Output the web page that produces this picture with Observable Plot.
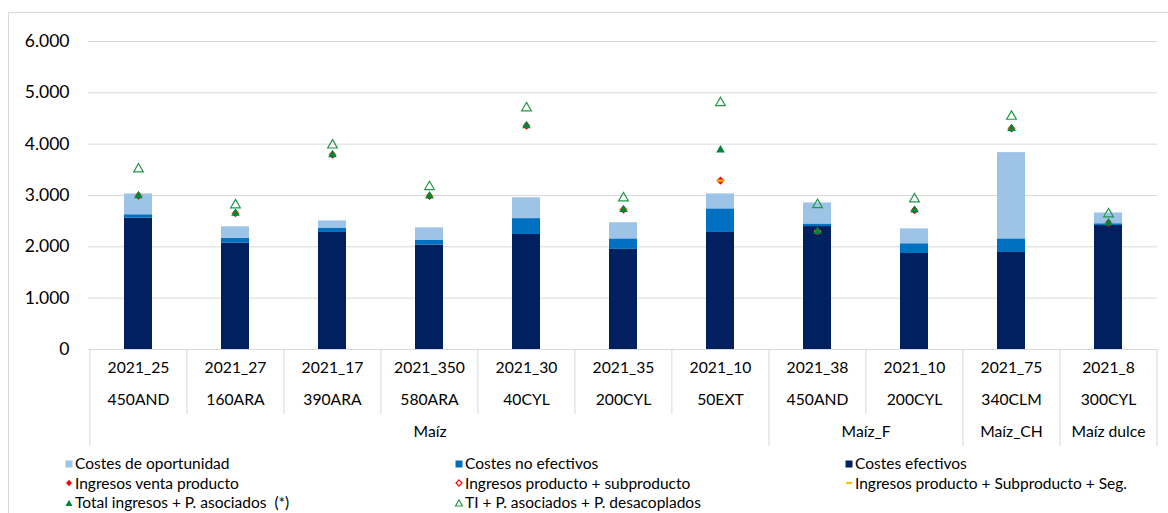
<!DOCTYPE html>
<html>
<head>
<meta charset="utf-8">
<script src="https://cdn.jsdelivr.net/npm/d3@7"></script>
<script src="https://cdn.jsdelivr.net/npm/@observablehq/plot@0.6"></script>
<style>
  body { margin: 0; background: #fff; font-family: Lato, "Open Sans", sans-serif; color: #000; }
  #wrap { position: relative; width: 1168px; height: 513px; overflow: hidden; background: #fff; }
  #chart { position: absolute; left: 0; top: 0; }
  #border { position: absolute; left: 8px; top: 12px; width: 1175px; height: 520px; border: 1px solid #d9d9d9; box-sizing: border-box; pointer-events: none; }
  #legend { position: absolute; left: 65px; top: 454px; display: grid; grid-template-columns: 390px 390px 300px; grid-auto-rows: 19.5px; font-size: 15.5px; line-height: 19.5px; white-space: pre; }
  #legend .item { display: flex; align-items: center; }
  #legend svg { width: 8px; height: 10px; margin-right: 2px; flex: none; overflow: visible; }
</style>
</head>
<body>
<div id="wrap">
  <div id="chart"></div>
  <div id="legend"></div>
  <div id="border"></div>
</div>
<script>
// ---- data ----
const codes   = ["2021_25","2021_27","2021_17","2021_350","2021_30","2021_35","2021_10","2021_38","2021_10","2021_75","2021_8"];
const regions = ["450AND","160ARA","390ARA","580ARA","40CYL","200CYL","50EXT","450AND","200CYL","340CLM","300CYL"];
const groups  = ["Maíz","Maíz","Maíz","Maíz","Maíz","Maíz","Maíz","Maíz_F","Maíz_F","Maíz_CH","Maíz dulce"];

const costesEfectivos    = [2560, 2075, 2280, 2035, 2240, 1950, 2280, 2395, 1870, 1890, 2415];
const costesNoEfectivos  = [  65,   90,   85,   90,  310,  205,  460,   50,  190,  265,   35];
const costesOportunidad  = [ 405,  225,  140,  245,  405,  315,  290,  410,  290, 1680,  210];

const ingresosVenta       = [2995, 2655, 3795, 2990, 4360, 2725, 3290, 2300, 2715, 4305, 2465];
const ingresosSubproducto = [2995, 2655, 3795, 2990, 4360, 2725, 3290, 2300, 2715, 4305, 2465];
const ingresosSeguro      = [2995, 2655, 3795, 2990, 4360, 2725, 3290, 2300, 2715, 4305, 2465];
const totalIngresos       = [2995, 2655, 3795, 2990, 4360, 2725, 3885, 2300, 2715, 4305, 2465];
const tiDesacoplados      = [3515, 2815, 3980, 3170, 4705, 2950, 4805, 2820, 2930, 4540, 2640];

const costNames  = ["Costes efectivos", "Costes no efectivos", "Costes de oportunidad"];
const costColors = ["#002060", "#0070C0", "#9DC3E6"];

// ---- layout ----
const W = 1168, H = 452, mL = 88, mR = 11, mT = 41, mB = 103;
const keys = codes.map((c, i) => c + " " + regions[i]);
const step = (W - mL - mR) / keys.length;
const barW = 28;
const pad = 1 - barW / step;
const innerH = H - mT - mB;

const costValues = [costesEfectivos, costesNoEfectivos, costesOportunidad];
const bars = costNames.flatMap((name, s) => keys.map((k, i) => ({key: k, series: name, value: costValues[s][i]})));
const rows = keys.map((k, i) => ({
  key: k, venta: ingresosVenta[i], sub: ingresosSubproducto[i], seg: ingresosSeguro[i],
  total: totalIngresos[i], ti: tiDesacoplados[i]
}));

// group spans
const groupList = [];
groups.forEach((g, i) => {
  if (i === 0 || groups[i - 1] !== g) groupList.push({name: g, start: i, count: 1});
  else groupList[groupList.length - 1].count++;
});
const boundaries = keys.map((k, i) => ({key: k, group: i === 0 || groups[i] !== groups[i - 1]}));

const esFormat = d3.formatLocale({decimal: ",", thousands: ".", grouping: [3], currency: ["", "€"]}).format(",.0f");

const dash = {
  draw(context, size) {
    const w = Math.sqrt(size);
    context.rect(-w / 2, -1.1, w, 2.2);
  }
};

const red = "#FF0000", yellow = "#FFC000", green = "#00843D", green2 = "#1E9646";

const chart = Plot.plot({
  width: W, height: H,
  marginLeft: mL, marginRight: mR, marginTop: mT, marginBottom: mB,
  style: {fontFamily: "Lato, 'Open Sans', sans-serif", fontSize: "17.5px", color: "#000", background: "transparent", overflow: "visible"},
  x: {type: "band", domain: keys, paddingInner: pad, paddingOuter: pad / 2, axis: null},
  y: {domain: [0, 6000], ticks: 6, tickFormat: esFormat, tickSize: 0, tickPadding: 19, label: null},
  color: {domain: costNames, range: costColors},
  marks: [
    Plot.ruleY(d3.ticks(0, 6000, 6), {stroke: "#d9d9d9", strokeWidth: 1}),
    Plot.barY(bars, {x: "key", y: "value", fill: "series"}),
    Plot.dot(rows, {x: "key", y: "venta", symbol: "diamond2", r: 2.9, fill: red}),
    Plot.dot(rows, {x: "key", y: "sub", symbol: "diamond2", r: 2.9, fill: "none", stroke: red, strokeWidth: 1.2}),
    Plot.dot(rows, {x: "key", y: "seg", symbol: dash, r: 3.6, fill: yellow}),
    Plot.dot(rows, {x: "key", y: "total", symbol: "triangle", r: 3.2, fill: green}),
    Plot.dot(rows, {x: "key", y: "ti", symbol: "triangle", r: 3.6, fill: "none", stroke: green2, strokeWidth: 1.2}),
    // category table separators
    Plot.ruleX(boundaries.filter(d => !d.group), {x: "key", dx: -step / 2, insetTop: innerH, insetBottom: -65, stroke: "#d9d9d9"}),
    Plot.ruleX(boundaries.filter(d => d.group), {x: "key", dx: -step / 2, insetTop: innerH, insetBottom: -97, stroke: "#d9d9d9"}),
    Plot.ruleX([keys[keys.length - 1]], {x: d => d, dx: step / 2, insetTop: innerH, insetBottom: -97, stroke: "#d9d9d9"}),
    // category labels
    Plot.text(keys, {x: d => d, text: (d, i) => codes[i], frameAnchor: "bottom", dy: 23, fontSize: 15.7, fill: "#000"}),
    Plot.text(keys, {x: d => d, text: (d, i) => regions[i], frameAnchor: "bottom", dy: 55, fontSize: 15.7, fill: "#000"}),
    ...groupList.map(g => Plot.text([g], {x: () => keys[g.start], dx: (g.count - 1) * step / 2, text: d => d.name, frameAnchor: "bottom", dy: 87.5, fontSize: 15.7, fill: "#000"}))
  ]
});
document.getElementById("chart").appendChild(chart);

// ---- legend ----
const legendItems = [
  {label: "Costes de oportunidad", shape: "square", color: costColors[2]},
  {label: "Costes no efectivos", shape: "square", color: costColors[1]},
  {label: "Costes efectivos", shape: "square", color: costColors[0]},
  {label: "Ingresos venta producto", shape: "diamond", color: red},
  {label: "Ingresos producto + subproducto", shape: "diamondOpen", color: red},
  {label: "Ingresos producto + Subproducto + Seg.", shape: "dash", color: yellow},
  {label: "Total ingresos + P. asociados  (*)", shape: "triangle", color: green},
  {label: "TI + P. asociados + P. desacoplados", shape: "triangleOpen", color: green2}
];
const shapes = {
  square: c => `<rect x="0.5" y="1.5" width="7" height="7" fill="${c}"/>`,
  diamond: c => `<path d="M4,1.8L7,5L4,8.2L1,5Z" fill="${c}"/>`,
  diamondOpen: c => `<path d="M4,1.8L7,5L4,8.2L1,5Z" fill="none" stroke="${c}" stroke-width="1.2"/>`,
  dash: c => `<rect x="1" y="3.9" width="6" height="2.2" fill="${c}"/>`,
  triangle: c => `<path d="M4,1.8L7.5,8L0.5,8Z" fill="${c}"/>`,
  triangleOpen: c => `<path d="M4,1.8L7.5,8L0.5,8Z" fill="none" stroke="${c}" stroke-width="1.1"/>`
};
const legend = document.getElementById("legend");
legendItems.forEach(it => {
  const div = document.createElement("div");
  div.className = "item";
  div.innerHTML = `<svg viewBox="0 0 8 10">${shapes[it.shape](it.color)}</svg><span></span>`;
  div.querySelector("span").textContent = it.label;
  legend.appendChild(div);
});
</script>
</body>
</html>
